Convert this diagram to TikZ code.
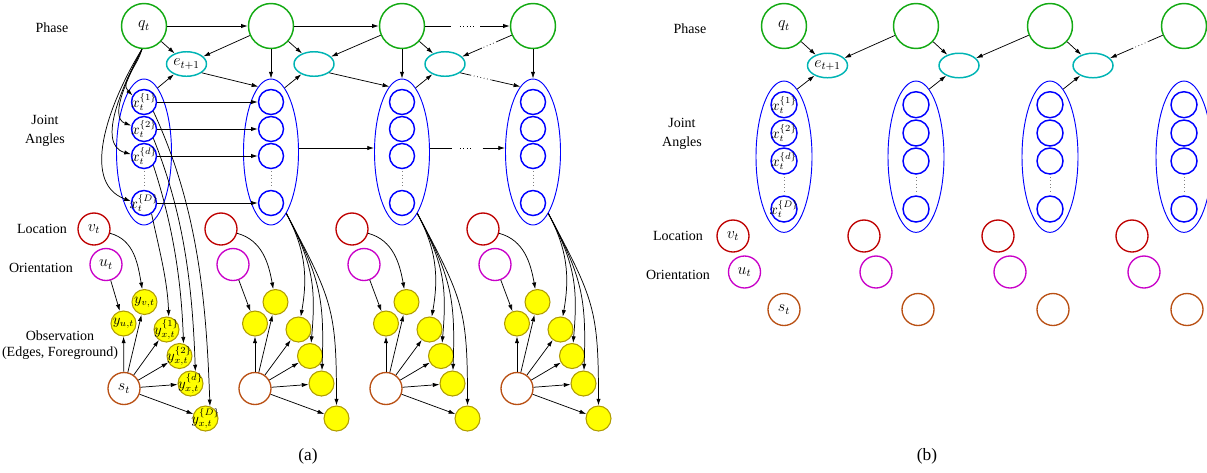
\documentclass[tikz,border=0pt]{standalone}
\usepackage{fontspec}
\setmainfont{Liberation Serif}
\usetikzlibrary{arrows.meta,shapes.geometric,calc}
\definecolor{phcol}{RGB}{20,170,20}
\definecolor{ecol}{RGB}{0,180,180}
\definecolor{jcol}{RGB}{0,0,255}
\definecolor{vcol}{RGB}{190,0,0}
\definecolor{ucol}{RGB}{200,0,200}
\definecolor{scol}{RGB}{185,80,20}
\definecolor{ycol}{RGB}{255,255,0}
\definecolor{ybcol}{RGB}{175,155,0}
\newcommand{\mylab}[1]{{\fontsize{10.5}{12}\selectfont\makebox[0pt]{$#1$}}}
\begin{document}
\begin{tikzpicture}[x=0.75pt,y=0.75pt,
 phase/.style={circle,draw=phcol,line width=1.1pt,minimum size=33.75pt,inner sep=0pt},
 evar/.style={ellipse,draw=ecol,line width=1.1pt,minimum width=30pt,minimum height=18.4pt,inner sep=0pt},
 jgroup/.style={ellipse,draw=jcol,line width=0.7pt,minimum width=41.25pt,minimum height=109.5pt,inner sep=0pt},
 jgroupb/.style={ellipse,draw=jcol,line width=0.7pt,minimum width=42pt,minimum height=113.5pt,inner sep=0pt},
 xvar/.style={circle,draw=jcol,line width=1.1pt,minimum size=18.75pt,inner sep=0pt},
 xvarb/.style={circle,draw=jcol,line width=1.1pt,minimum size=19.5pt,inner sep=0pt},
 locvar/.style={circle,draw=vcol,line width=1pt,minimum size=24pt,inner sep=0pt},
 orivar/.style={circle,draw=ucol,line width=1pt,minimum size=24pt,inner sep=0pt},
 svar/.style={circle,draw=scol,line width=1pt,minimum size=24pt,inner sep=0pt},
 obs/.style={circle,draw=ybcol,fill=ycol,line width=0.8pt,minimum size=18.75pt,inner sep=0pt},
 arr/.style={-{Latex[length=5pt,width=3.2pt]},line width=0.55pt},
 seg/.style={line width=0.55pt},
 dotseg/.style={line width=0.55pt,dotted},
 vdots/.style={dotted,gray,line width=0.6pt,shorten >=1.5pt,shorten <=1.5pt},
 lbl/.style={font=\fontsize{10.5}{12}\selectfont,align=center,inner sep=0pt},
 lbltwo/.style={font=\fontsize{10.5}{14.5}\selectfont,align=center,inner sep=0pt},
 lblobs/.style={font=\fontsize{10.5}{12.2}\selectfont,align=center,inner sep=0pt},
 captxt/.style={font=\fontsize{13}{15}\selectfont,inner sep=0pt},
]
\useasboundingbox (0,0) rectangle (1207,-472);

% ================= (a) =================
\node[lbl] (aLphase) at (52,-28) {Phase};
\node[lbltwo] (aLjoint) at (45,-131) {Joint\\Angles};
\node[lbl] (aLloc) at (42,-229) {Location};
\node[lbl] (aLori) at (41,-268) {Orientation};
\node[lblobs] (aLobs) at (60,-345) {Observation\\(Edges, Foreground)};

\node[phase] (aq1) at (144,-26) {\large$q_t$};
\node[evar] (ae1) at (186.5,-64) {\large$e_{t+1}$};
\node[evar] (ae2) at (314,-64) {};
\node[evar] (ae3) at (445,-64) {};
\node[jgroup] (aJ1) at (144,-152) {};
\node[xvar] (ax11) at (144,-102) {\mylab{x_t^{\{1\}}}};
\node[xvar] (ax12) at (144,-129) {\mylab{x_t^{\{2\}}}};
\node[xvar] (ax13) at (144,-156) {\mylab{x_t^{\{d\}}}};
\node[xvar] (ax14) at (144,-203) {\mylab{x_t^{\{D\}}}};

\node[locvar] (av1) at (94,-229) {\large$v_t$};
\node[orivar] (au1) at (106,-264.5) {\large$u_t$};
\node[obs] (ayv1) at (144.5,-302) {\mylab{y_{v,t}}};
\node[obs] (ayu1) at (123.5,-323.5) {\mylab{y_{u,t}}};
\node[obs] (ay11) at (166.5,-329.5) {\mylab{y_{x,t}^{\{1\}}}};
\node[obs] (ay12) at (179.5,-356) {\mylab{y_{x,t}^{\{2\}}}};
\node[obs] (ay13) at (190.5,-383.5) {\mylab{y_{x,t}^{\{d\}}}};
\node[obs] (ay14) at (205.5,-418.5) {\mylab{y_{x,t}^{\{D\}}}};
\node[svar] (as1) at (124,-388.5) {\large$s_t$};

\foreach \c/\X in {2/271,3/402,4/533}{
 \node[phase] (aq\c) at (\X,-26) {};
 \node[jgroup] (aJ\c) at (\X,-152) {};
 \node[xvar] (ax\c1) at (\X,-102) {};
 \node[xvar] (ax\c2) at (\X,-129) {};
 \node[xvar] (ax\c3) at (\X,-156) {};
 \node[xvar] (ax\c4) at (\X,-203) {};
 \node[locvar] (av\c) at (\X-50,-229) {};
 \node[orivar] (au\c) at (\X-38,-264.5) {};
 \node[obs] (ayv\c) at (\X+4.5,-302) {};
 \node[obs] (ayu\c) at (\X-16,-323.5) {};
 \node[obs] (ay\c1) at (\X+27.5,-329.5) {};
 \node[obs] (ay\c2) at (\X+39,-356) {};
 \node[obs] (ay\c3) at (\X+50.5,-383.5) {};
 \node[obs] (ay\c4) at (\X+65.5,-418.5) {};
 \node[svar] (as\c) at (\X-16,-388.5) {};
 \draw[arr] (aJ\c.-76) to[out=-62,in=80] (ay\c1);
 \draw[arr] (aJ\c.-76) to[out=-62,in=85,looseness=1.1] (ay\c2);
 \draw[arr] (aJ\c.-76) to[out=-62,in=88,looseness=1.15] (ay\c3);
 \draw[arr] (aJ\c.-76) to[out=-62,in=90,looseness=1.25] (ay\c4);
 \draw[arr] (aq\c) -- (aJ\c);
}
\foreach \c in {1,...,4}{
 \draw[arr] (av\c) to[out=-15,in=100] (ayv\c);
 \draw[arr] (au\c) -- (ayu\c);
 \draw[arr] (as\c) -- (ayu\c);
 \draw[arr] (as\c) -- (ayv\c);
 \foreach \k in {1,...,4}{\draw[arr] (as\c) -- (ay\c\k);}
 \draw[vdots] (ax\c3) -- (ax\c4);
}

% phase chain
\draw[arr] (aq1) -- (aq2);
\draw[arr] (aq2) -- (aq3);
\path (aq3) -- (aq4) coordinate[pos=0.31] (aP1) coordinate[pos=0.41] (aP2) coordinate[pos=0.59] (aP3) coordinate[pos=0.65] (aP4);
\draw[seg] (aq3) -- (aP1);
\draw[dotseg] (aP2) -- (aP3);
\draw[arr] (aP4) -- (aq4);

% phase -> e
\draw[arr] (aq1) -- (ae1);
\draw[arr] (aq2) -- (ae1);
\draw[arr] (aq2) -- (ae2);
\draw[arr] (aq3) -- (ae2);
\draw[arr] (aq3) -- (ae3);
\path (aq4) -- (ae3) coordinate[pos=0.3] (aQ1) coordinate[pos=0.6] (aQ2);
\draw[seg] (aq4) -- (aQ1);
\draw[dotseg] (aQ1) -- (aQ2);
\draw[arr] (aQ2) -- (ae3);

% e -> next J
\draw[arr] (ae1.-30) -- (aJ2.101);
\draw[arr] (ae2.-30) -- (aJ3.101);
\path (ae3.-30) -- (aJ4.101) coordinate[pos=0.17] (aR1) coordinate[pos=0.52] (aR2);
\draw[seg] (ae3.-30) -- (aR1);
\draw[dotseg] (aR1) -- (aR2);
\draw[arr] (aR2) -- (aJ4.101);

% J -> e
\draw[arr] (aJ1.78) -- (ae1);
\draw[arr] (aJ2.78) -- (ae2);
\draw[arr] (aJ3.78) -- (ae3);

% joint angles transitions
\foreach \k in {1,...,4}{\draw[arr] (ax1\k) -- (ax2\k);}
\draw[arr] ([yshift=3pt]aJ2.east) -- ([yshift=3pt]aJ3.west);
\path ([yshift=3pt]aJ3.east) -- ([yshift=3pt]aJ4.west) coordinate[pos=0.3] (aS1) coordinate[pos=0.4] (aS2) coordinate[pos=0.57] (aS3) coordinate[pos=0.7] (aS4);
\draw[seg] ([yshift=3pt]aJ3.east) -- (aS1);
\draw[dotseg] (aS2) -- (aS3);
\draw[arr] (aS4) -- ([yshift=3pt]aJ4.west);

% q_t -> joint angles (column 1)
\draw[arr] (aq1.265) to[out=-105,in=135] (ax11.150);
\draw[arr] (aq1.265) to[out=-115,in=160,looseness=0.85] (ax12.165);
\draw[arr] (aq1.265) to[out=-118,in=165,looseness=0.9] (ax13.172);
\draw[arr] (aq1.265) to[out=-122,in=160,looseness=0.95] (ax14.172);

% joint angles -> observations (column 1)
\draw[arr] (ax11.-45) to[out=-65,in=92,looseness=0.9] (ay14.70);
\draw[arr] (ax12.-45) to[out=-68,in=92,looseness=0.9] (ay13.68);
\draw[arr] (ax13.-45) to[out=-72,in=92,looseness=0.9] (ay12.72);
\draw[arr] (ax14.-55) to[out=-78,in=92,looseness=0.9] (ay11.80);

\node[captxt] (capa) at (308,-456) {(a)};

% ================= (b) =================
\node[lbl] (bLphase) at (690,-29) {Phase};
\node[lbltwo] (bLjoint) at (682,-134) {Joint\\Angles};
\node[lbl] (bLloc) at (678,-236) {Location};
\node[lbl] (bLori) at (678,-275) {Orientation};

\node[phase] (bq1) at (784,-26) {\large$q_t$};
\node[evar] (be1) at (827.5,-65.5) {\large$e_{t+1}$};
\node[evar] (be2) at (959,-65.5) {};
\node[evar] (be3) at (1093,-65.5) {};
\node[jgroupb] (bJ1) at (784,-156.7) {};
\node[xvarb] (bx11) at (784,-104.7) {\mylab{x_t^{\{1\}}}};
\node[xvarb] (bx12) at (784,-133) {\mylab{x_t^{\{2\}}}};
\node[xvarb] (bx13) at (784,-161) {\mylab{x_t^{\{d\}}}};
\node[xvarb] (bx14) at (784,-209) {\mylab{x_t^{\{D\}}}};
\node[locvar] (bv1) at (733,-236) {\large$v_t$};
\node[orivar] (bu1) at (744.5,-272) {\large$u_t$};
\node[svar] (bs1) at (784,-309.5) {\large$s_t$};

\foreach \c/\X/\S in {2/916/918,3/1050/1053,4/1184/1187}{
 \node[phase] (bq\c) at (\X,-26) {};
 \node[jgroupb] (bJ\c) at (\X,-156.7) {};
 \node[xvarb] (bx\c1) at (\X,-104.7) {};
 \node[xvarb] (bx\c2) at (\X,-133) {};
 \node[xvarb] (bx\c3) at (\X,-161) {};
 \node[xvarb] (bx\c4) at (\X,-209) {};
 \node[locvar] (bv\c) at (\X-52,-236) {};
 \node[orivar] (bu\c) at (\X-40,-272) {};
 \node[svar] (bs\c) at (\S,-309.5) {};
}
\foreach \c in {1,...,4}{\draw[vdots] (bx\c3) -- (bx\c4);}

\draw[arr] (bq1) -- (be1);
\draw[arr] (bq2) -- (be1);
\draw[arr] (bq2) -- (be2);
\draw[arr] (bq3) -- (be2);
\draw[arr] (bq3) -- (be3);
\path (bq4) -- (be3) coordinate[pos=0.27] (bQ1) coordinate[pos=0.56] (bQ2);
\draw[seg] (bq4) -- (bQ1);
\draw[dotseg] (bQ1) -- (bQ2);
\draw[arr] (bQ2) -- (be3);
\draw[arr] (bJ1.79) -- (be1);
\draw[arr] (bJ2.79) -- (be2);
\draw[arr] (bJ3.79) -- (be3);

\node[captxt] (capb) at (927,-456) {(b)};
\end{tikzpicture}
\end{document}
